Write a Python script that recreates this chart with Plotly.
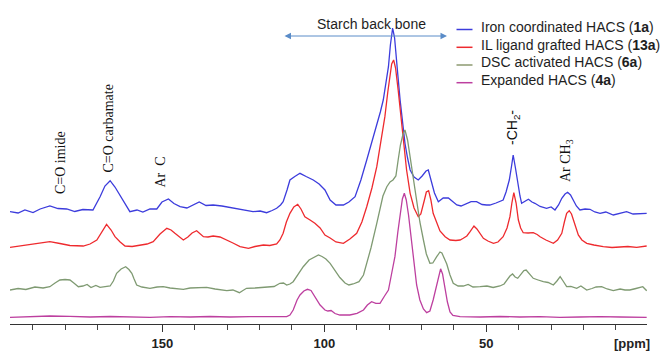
import plotly.graph_objects as go

# 13C CP-MAS spectra of the HACS series (chemical shift in ppm, intensity in arbitrary units)
iron_ppm = [197.0, 194.5, 192.4, 189.9, 187.7, 184.7, 182.2, 179.5, 177.0, 174.5, 171.4, 169.2, 167.7, 166.1,
            164.6, 163.1, 161.5, 160.0, 157.8, 156.0, 153.8, 151.7, 150.1, 148.1, 146.4, 144.5, 142.4, 140.5,
            138.6, 136.5, 134.3, 131.6, 128.2, 125.1, 122.0, 119.8, 117.8, 116.1, 114.7, 113.5, 112.7, 111.5,
            110.6, 109.1, 107.5, 105.6, 103.4, 101.6, 99.8, 98.2, 96.4, 94.1, 92.4, 90.5, 88.7, 86.9, 85.3,
            83.8, 82.7, 81.8, 81.0, 80.2, 79.6, 78.9, 78.3, 77.9, 77.3, 76.6, 75.9, 75.1, 74.3, 73.5, 72.3,
            71.0, 69.8, 68.6, 67.9, 66.9, 66.0, 64.8, 63.3, 61.7, 60.6, 59.1, 57.8, 56.3, 54.7, 53.0, 51.3,
            49.9, 48.9, 47.0, 44.8, 43.9, 42.9, 42.2, 41.7, 41.0, 40.3, 39.6, 39.1, 38.1, 37.0, 35.9, 35.0,
            33.4, 31.4, 30.0, 28.8, 27.7, 26.7, 25.7, 24.9, 24.0, 23.1, 22.2, 21.1, 19.5, 18.0, 16.5, 14.9,
            13.1, 10.8, 8.7, 6.7, 4.7, 2.6, 0.5]
iron_int = [0.3, -1, 2, -0.5, 3, 6, 3.5, 3, 0.5, 2.5, 2, 15.3, 26, 31.3,
            25, 17, 9, 0.3, 2, 0, 3, 3, 10, 13, 8.5, 5.3, 4, 7,
            10, 6.5, 7, 6, 4, 2.5, 0.3, 1, -0.7, 1.5, 3.7, 7, 10.3, 22,
            32, 35.5, 38.7, 35.5, 32, 28, 22, 12, 7, 7, 10, 15.3, 32, 52, 70,
            85.3, 100, 112, 128, 145.3, 167, 184, 174, 162, 137, 112, 90, 68.7, 54, 42, 35,
            32, 36, 41, 42, 29, 19, 10.3, 14, 14, 11, 7, 6, 8, 10.3, 10.3, 7.5,
            7, 7, 9, 12, 20, 32, 46, 57, 44, 28.7, 16, 8.7, 11, 12.7, 10, 8.7,
            5.5, 3.7, 5, 2, 7, 13.7, 18, 19.7, 17, 12, 6, 2, 3, 2.7, 0, -1.3,
            0, -3, -1, 0.3, -2, -2, -1.3]

il_ppm = [197.0, 193.9, 190.8, 187.7, 184.7, 181.6, 178.5, 174.4, 172.3, 170.2, 168.9, 167.2, 165.8, 164.6,
          163.0, 161.5, 159.3, 156.9, 154.7, 152.8, 150.7, 148.6, 147.3, 146.1, 144.8, 143.5, 142.1, 140.8,
          139.4, 138.4, 137.3, 135.9, 134.3, 132.2, 130.1, 128.2, 126.0, 123.4, 121.4, 118.8, 116.8, 114.7,
          113.7, 112.7, 111.7, 110.6, 109.4, 108.2, 107.2, 106.0, 104.4, 102.9, 101.3, 99.8, 98.2, 96.4,
          94.1, 92.1, 90.0, 88.4, 86.9, 85.3, 83.8, 82.5, 81.3, 80.4, 79.7, 79.2, 78.6, 78.0, 77.2, 76.3,
          75.6, 74.6, 73.5, 72.3, 71.0, 70.2, 69.1, 68.5, 67.8, 67.1, 66.4, 65.3, 64.3, 62.7, 61.2, 59.4,
          58.1, 57.1, 56.0, 55.0, 53.8, 52.9, 51.9, 50.9, 49.5, 47.8, 46.4, 44.8, 43.6, 42.7, 42.1, 41.5,
          40.8, 40.1, 39.4, 38.6, 37.1, 35.5, 34.3, 33.4, 31.6, 29.3, 28.0, 26.7, 25.9, 25.2, 24.4, 23.7,
          23.1, 22.3, 21.6, 20.5, 19.0, 16.8, 13.9, 11.2, 8.7, 6.3, 3.6, 0.5]
il_int = [-1.3, 0, 1, 2.5, 4.3, 2.5, 0.5, 0, 2, 6, 13, 21.7, 16, 9.3,
          4, 0, -0.5, 1, 2, 4.3, 12, 17.7, 16, 12.7, 9, 6, 9, 13,
          15.3, 12, 9.3, 9, 10, 9, 6, 3, -0.7, -2.3, -0.5, 1, 0.5, 2,
          6, 12.7, 24, 32.7, 39, 41.7, 37, 29.3, 26, 22.7, 18, 11, 8, 4,
          2.7, 7, 12.7, 24, 39.3, 58, 79.3, 105, 129.3, 154, 169.3, 182, 186, 178, 156, 128,
          102.7, 76, 52.7, 38, 29.3, 32, 46, 54, 55.3, 46, 32.7, 24, 15, 9.3, 6, 5.5,
          6, 7.7, 10, 14.3, 20, 17, 12, 7.7, 5, 2.7, 4, 9.3, 18, 29.3, 43, 53.3,
          43, 26, 18, 13.3, 13, 13.3, 11.5, 9.3, 6, 2.7, 6, 12.7, 24, 32.7, 35.3, 32,
          26, 18, 11, 6, 2.7, 1, -0.7, -1.5, -1.3, -0.5, -1.3, 0]

dsc_ppm = [197.0, 194.5, 192.1, 189.3, 186.8, 184.7, 183.1, 181.6, 180.0, 178.5, 177.3, 175.9, 174.5, 173.2,
           172.0, 170.5, 169.2, 167.7, 166.1, 165.1, 164.1, 162.7, 161.3, 160.3, 159.4, 158.7, 157.9, 156.3,
           153.8, 151.6, 149.7, 147.6, 145.5, 143.5, 141.4, 139.0, 136.3, 133.7, 130.1, 128.2, 126.2, 125.1,
           124.0, 121.4, 117.8, 115.5, 113.7, 112.6, 111.6, 110.6, 109.6, 108.1, 106.5, 104.7, 103.2, 101.8,
           100.7, 99.5, 98.2, 96.7, 95.2, 93.6, 92.4, 91.1, 89.3, 87.9, 86.8, 85.6, 83.8, 82.8, 81.9, 80.7,
           79.7, 78.8, 77.9, 77.2, 76.5, 75.7, 75.1, 74.3, 73.5, 72.5, 71.5, 70.5, 69.4, 68.5, 67.4, 66.5,
           65.3, 64.3, 63.7, 62.9, 62.2, 61.2, 60.2, 58.7, 57.1, 55.6, 54.1, 51.9, 49.8, 47.9, 45.8, 44.5,
           43.5, 42.7, 41.9, 41.1, 40.3, 39.3, 38.4, 37.7, 36.8, 35.5, 34.0, 32.4, 30.9, 29.3, 28.2, 27.2,
           26.3, 25.2, 23.9, 22.1, 20.8, 19.0, 17.4, 16.1, 14.4, 12.7, 10.8, 8.7, 7.2, 5.7, 3.8, 1.7, 0.5]
dsc_int = [-3, -1.5, -2.5, 0, -1, 0.3, 4, 7, 7.5, 7, 4, 0.3, 1, 2.5,
           -0.5, 1.5, -0.3, 0, 1, 6, 13.7, 18, 20.3, 17.5, 13.7, 8, 2, 0,
           -1.3, 0, 0.3, -1, -1.5, -2.3, -1, -0.5, -0.3, -2, -3.7, -3, -5.7, -3.5,
           -1.3, -1, -0.3, 0.5, 3.7, 4, 2, 3, 5.3, 13, 20.3, 27, 30, 32,
           30.5, 28, 23.7, 17, 9.5, 4, 2, 3, 5.3, 12, 25, 39, 63.7, 79, 91, 100.3,
           105, 107, 111, 127, 142, 153, 157, 147, 130.3, 109, 87, 65, 47, 33, 23.7, 24,
           30.3, 35, 34, 29, 23, 12, 3.7, 1, 1, 2.5, 0, 0.3, 1, -0.5, 1, 3,
           7, 11, 13, 10, 8.7, 13, 16.5, 17, 13.5, 8.7, 7, 5.3, 4.5, 2, 6, 10.3,
           6, 0.3, 0.5, -1.3, 1, -3, -1.5, 0, 0.3, -2, -3.7, -2, -3, -3, -1.5, 0.3, -3.7]

exp_ppm = [197.0, 190.8, 184.7, 178.5, 172.3, 166.1, 160.0, 153.8, 147.6, 141.4, 135.3, 129.1, 122.9, 116.8,
           111.6, 110.6, 109.6, 108.4, 107.5, 106.3, 105.2, 104.1, 102.9, 101.3, 99.8, 98.9, 97.9, 96.7,
           95.2, 92.1, 89.9, 87.9, 86.7, 85.4, 84.1, 82.8, 81.4, 80.2, 79.3, 78.2, 77.3, 76.5, 75.9, 75.3,
           74.7, 74.0, 73.2, 72.5, 71.5, 70.5, 69.4, 68.4, 67.4, 66.4, 65.4, 64.8, 64.1, 63.5, 62.8, 62.0,
           61.2, 60.3, 58.1, 51.9, 45.8, 39.6, 33.4, 27.3, 21.1, 14.9, 8.7, 0.5]
exp_int = [-0.3, 0.5, 1, 0.7, 0, 0.5, 0, -0.3, 0.3, 0, 0.5, 0, 0.3, 0,
           0.3, 2, 7, 17, 22, 26, 27.7, 26.5, 20.3, 12, 7, 6, 6.5, 3.5,
           2, 2, 3.7, 7, 12, 15.3, 13.7, 13.7, 21, 27, 42, 60.3, 85, 105, 118, 123.7,
           117, 102, 79, 57, 32, 17, 8, 4.3, 6, 17, 30.3, 41, 48.2, 43, 28, 15,
           5, 1.5, 0.3, 0, 0.5, 0, 0.3, -0.3, 0, 0.4, 0, -0.3]

series_names = ["Iron coordinated HACS (<b>1a</b>)", "IL ligand grafted HACS (<b>13a</b>)",
                "DSC activated HACS (<b>6a</b>)", "Expanded HACS (<b>4a</b>)"]
peak_labels = ["C=O imide", "C=O carbamate", "Ar  C", "-CH<sub>2</sub>-", "Ar CH<sub>3</sub>"]
tick_values = [50, 100, 150]

# drawing styles and vertical stacking
colors = ["#3c3cdc", "#ee2a2e", "#7f9a72", "#bd3f9f"]
legend_colors = ["#3c3cdc", "#ee2a2e", "#8c9a70", "#bd3f9f"]
offsets = [112, 78, 37, 7]

W, H = 665, 352
ML, MR, MT, MB = 10, 18, 0, 28
PW, PH = W - ML - MR, H - MT - MB


def paper(px, py):
    """Convert a pixel position on the page into paper coordinates."""
    return (px - ML) / PW, (H - MB - py) / PH


fig = go.Figure()
spectra = [(iron_ppm, iron_int), (il_ppm, il_int), (dsc_ppm, dsc_int), (exp_ppm, exp_int)]
for (xs, ys), name, col, off in zip(spectra, series_names, colors, offsets):
    fig.add_trace(go.Scatter(
        x=xs, y=[v + off for v in ys], mode="lines", name=name,
        line=dict(color=col, width=1.3), hoverinfo="skip", showlegend=False))

annotations = []
shapes = []

# legend drawn by hand: short coloured dash + label
legend_rows = [27.0, 44.8, 62.5, 80.2]
for name, col, ry in zip(series_names, legend_colors, legend_rows):
    x0, y0 = paper(456.5, ry + 2.5)
    x1, _ = paper(472.5, ry + 2.5)
    shapes.append(dict(type="line", xref="paper", yref="paper", x0=x0, x1=x1, y0=y0, y1=y0,
                       line=dict(color=col, width=1.5)))
    tx, ty = paper(478.5, ry)
    annotations.append(dict(xref="paper", yref="paper", x=tx, y=ty, text=name, showarrow=False,
                            xanchor="left", yanchor="middle",
                            font=dict(family="Liberation Sans, Arial", size=14, color="#1e1e1e")))

# starch backbone region marker
sx, sy = paper(371, 24)
annotations.append(dict(xref="paper", yref="paper", x=sx, y=sy, text="Starch back bone", showarrow=False,
                        xanchor="center", yanchor="middle",
                        font=dict(family="Liberation Sans, Arial", size=14, color="#1e1e1e")))
hx, hy = paper(447, 36)
annotations.append(dict(xref="paper", yref="paper", x=hx, y=hy, ax=-164, ay=0, text="",
                        showarrow=True, arrowside="end+start", arrowhead=2, arrowsize=1.3,
                        arrowwidth=1, arrowcolor="#5a8cc8"))

# rotated peak assignments
label_pos = [(60.5, 162.5), (107.5, 129), (159.5, 172), (513, 128), (566, 161)]
label_fonts = ["Liberation Serif, Times New Roman", "Liberation Serif, Times New Roman",
               "Liberation Serif, Times New Roman", "Liberation Sans, Arial",
               "Liberation Serif, Times New Roman"]
for txt, (lx, ly), fam in zip(peak_labels, label_pos, label_fonts):
    ax_, ay_ = paper(lx, ly)
    annotations.append(dict(xref="paper", yref="paper", x=ax_, y=ay_, text=txt, showarrow=False,
                            textangle=-90, xanchor="center", yanchor="middle",
                            font=dict(family=fam, size=14, color="#111111")))

# unit label at the right end of the axis
ux, uy = paper(632, 343.5)
annotations.append(dict(xref="paper", yref="paper", x=ux, y=uy, text="<b>[ppm]</b>", showarrow=False,
                        xanchor="center", yanchor="middle",
                        font=dict(family="Liberation Sans, Arial", size=13, color="#222222")))

fig.update_layout(
    width=W, height=H,
    margin=dict(l=ML, r=MR, t=MT, b=MB, pad=0),
    paper_bgcolor="white", plot_bgcolor="white",
    annotations=annotations, shapes=shapes,
    xaxis=dict(range=[197.0, 0.4], showgrid=False, zeroline=False,
               showline=True, linecolor="#333333", linewidth=1.2,
               tickvals=tick_values, ticktext=[str(v) for v in tick_values],
               ticks="outside", ticklen=7, tickwidth=1.2, tickcolor="#333333",
               tickfont=dict(family="Liberation Sans, Arial", size=13, color="#222222", weight="bold"),
               minor=dict(dtick=10, tick0=0, ticks="outside", ticklen=5, tickwidth=1, tickcolor="#444444")),
    yaxis=dict(range=[0, PH], visible=False, showgrid=False, zeroline=False),
)

fig.write_html("out.html")
